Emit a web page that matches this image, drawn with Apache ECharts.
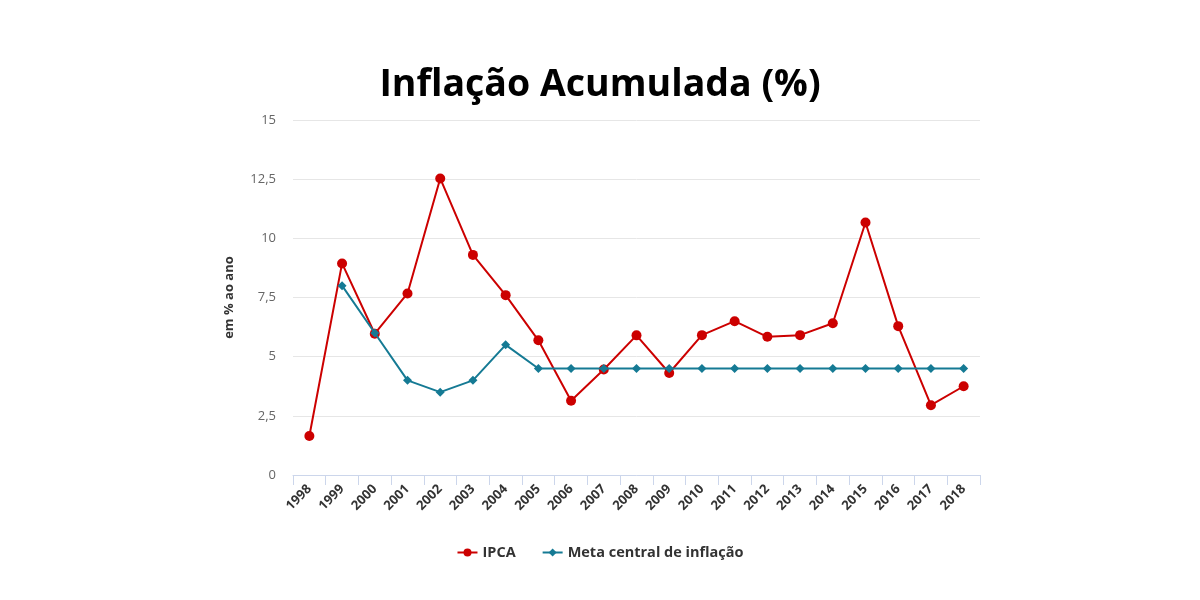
<!DOCTYPE html>
<html>
<head>
<meta charset="utf-8">
<script src="https://cdn.jsdelivr.net/npm/echarts@6/dist/echarts.min.js"></script>
<style>
  html, body { margin: 0; padding: 0; background: #fff; }
  #chart { width: 1200px; height: 600px; }
</style>
</head>
<body>
<div id="chart"></div>
<script>
// dados
var anos = ['1998', '1999', '2000', '2001', '2002', '2003', '2004', '2005', '2006', '2007', '2008',
            '2009', '2010', '2011', '2012', '2013', '2014', '2015', '2016', '2017', '2018'];
var ipca = [1.65, 8.94, 5.97, 7.67, 12.53, 9.30, 7.60, 5.69, 3.14, 4.46, 5.90,
            4.31, 5.91, 6.50, 5.84, 5.91, 6.41, 10.67, 6.29, 2.95, 3.75];
var meta = [null, 8, 6, 4, 3.5, 4, 5.5, 4.5, 4.5, 4.5, 4.5,
            4.5, 4.5, 4.5, 4.5, 4.5, 4.5, 4.5, 4.5, 4.5, 4.5];
var yTicks = ['0', '2,5', '5', '7,5', '10', '12,5', '15'];

var chart = echarts.init(document.getElementById('chart'));
chart.setOption({
  animation: false,
  title: {
    text: 'Inflação Acumulada (%)',
    left: 'center',
    top: 61,
    textStyle: { fontFamily: 'Open Sans', fontWeight: 'bold', fontSize: 37.5, color: '#000' }
  },
  legend: {
    bottom: 35,
    left: 'center',
    itemGap: 26,
    itemWidth: 20,
    itemHeight: 10,
    textStyle: { fontFamily: 'Open Sans', fontWeight: 'bold', fontSize: 14.5, color: '#333' },
    data: ['IPCA', 'Meta central de inflação']
  },
  grid: { left: 293, right: 220, top: 120, bottom: 125 },
  xAxis: {
    type: 'category',
    data: anos,
    boundaryGap: true,
    axisLine: { lineStyle: { color: '#ccd6eb' } },
    axisTick: { show: true, length: 10, lineStyle: { color: '#ccd6eb' } },
    axisLabel: {
      rotate: 45,
      interval: 0,
      margin: 12,
      fontFamily: 'Open Sans',
      fontWeight: 'bold',
      fontSize: 13,
      color: '#333'
    }
  },
  yAxis: {
    type: 'value',
    min: 0,
    max: 15,
    interval: 2.5,
    name: 'em % ao ano',
    nameLocation: 'middle',
    nameGap: 57,
    nameTextStyle: { fontFamily: 'Open Sans', fontWeight: 'bold', fontSize: 13, color: '#333' },
    axisLine: { show: false },
    axisTick: { show: false },
    splitLine: { lineStyle: { color: '#e6e6e6' } },
    axisLabel: {
      margin: 17,
      fontFamily: 'Open Sans',
      fontSize: 13,
      color: '#666',
      formatter: function (v) { return yTicks[Math.round(v / 2.5)]; }
    }
  },
  series: [
    {
      name: 'IPCA',
      type: 'line',
      data: ipca,
      symbol: 'circle',
      symbolSize: 10,
      itemStyle: { color: '#cc0000' },
      lineStyle: { color: '#cc0000', width: 2 },
      z: 2
    },
    {
      name: 'Meta central de inflação',
      type: 'line',
      data: meta,
      symbol: 'diamond',
      symbolSize: 9,
      itemStyle: { color: '#157a94' },
      lineStyle: { color: '#157a94', width: 2 },
      z: 3
    }
  ]
});
</script>
</body>
</html>
